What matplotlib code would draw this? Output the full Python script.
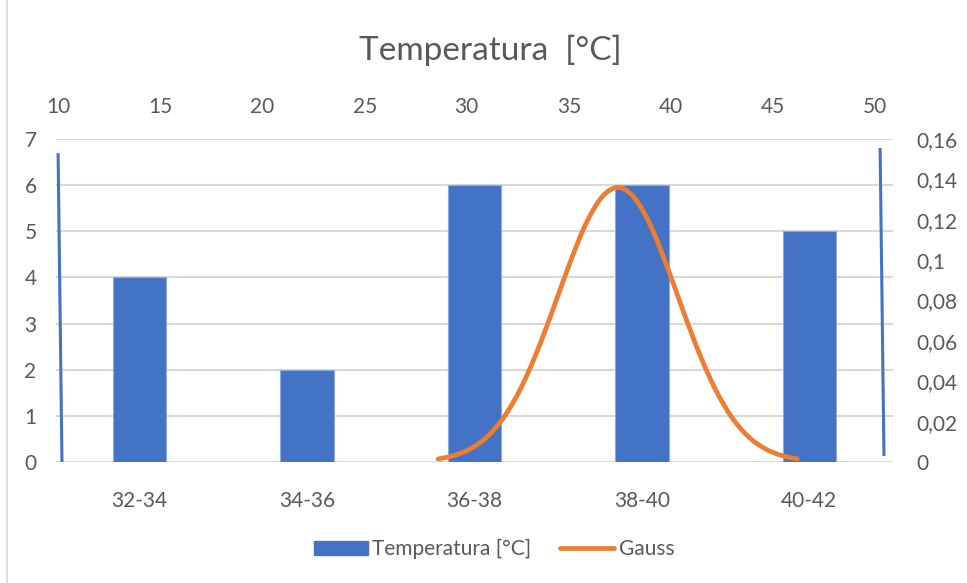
import numpy as np
import matplotlib.pyplot as plt
from matplotlib.path import Path
from matplotlib.patches import PathPatch, Patch
from matplotlib.lines import Line2D

plt.rcParams['font.family'] = ['Lato', 'DejaVu Sans']

# histogram classes
classes = ['32-34', '34-36', '36-38', '38-40', '40-42']
counts = [4, 2, 6, 6, 5]

# gauss curve (secondary axes)
gauss_x = [28.6, 29.4, 30.2, 31.0, 31.8, 32.6, 33.4, 34.2, 35.0, 35.8, 36.6, 37.4,
           38.2, 39.0, 39.8, 40.6, 41.4, 42.2, 43.0, 43.8, 44.6, 45.4, 46.2]
gauss_y = [0.0015, 0.0033, 0.0067, 0.0125, 0.0219, 0.0356, 0.0536, 0.0749, 0.0972,
           0.1172, 0.1310, 0.1360, 0.1310, 0.1172, 0.0972, 0.0749, 0.0536, 0.0356,
           0.0219, 0.0125, 0.0067, 0.0033, 0.0015]

# the two vertical strokes at the edges
edge_left_x = [9.98, 10.17]
edge_left_y = [0.153, 0.0]
edge_right_x = [50.25, 50.44]
edge_right_y = [0.1555, 0.003]

top_ticks = [10, 15, 20, 25, 30, 35, 40, 45, 50]
left_ticks = [0, 1, 2, 3, 4, 5, 6, 7]
right_ticks = [0, 0.02, 0.04, 0.06, 0.08, 0.1, 0.12, 0.14, 0.16]

BLUE = '#4472C4'
ORANGE = '#ED7D31'
GREY = '#595959'
GRID = '#D9D9D9'
FS = 15


def smooth_path(xs, ys):
    # Catmull-Rom -> cubic bezier, like a spreadsheet "smoothed line"
    pts = np.column_stack([xs, ys])
    n = len(pts)
    verts = [pts[0]]
    codes = [Path.MOVETO]
    for i in range(n - 1):
        p0 = pts[max(i - 1, 0)]
        p1 = pts[i]
        p2 = pts[i + 1]
        p3 = pts[min(i + 2, n - 1)]
        c1 = p1 + (p2 - p0) / 6.0
        c2 = p2 - (p3 - p1) / 6.0
        verts += [c1, c2, p2]
        codes += [Path.CURVE4] * 3
    return Path(verts, codes)


fig = plt.figure(figsize=(9.67, 5.83), dpi=100)
rect = [56 / 967, 1 - 462 / 583, (893 - 56) / 967, (462 - 139) / 583]
ax = fig.add_axes(rect)
ax2 = fig.add_axes(rect, frameon=False, label='sec')

# bars on category axis
pos = np.arange(len(classes))
ax.bar(pos, counts, width=0.32, color=BLUE, edgecolor='#8FAADC', linewidth=0.8, zorder=3)
ax.set_xlim(-0.5, len(classes) - 0.5)
ax.set_ylim(0, 7)
ax.set_xticks(pos)
ax.set_xticklabels(classes)
ax.set_yticks(left_ticks)
ax.yaxis.grid(True, color=GRID, linewidth=1.5, zorder=0)
ax.set_axisbelow(True)
for s in ax.spines.values():
    s.set_visible(False)
ax.tick_params(axis='x', length=0, pad=21, labelsize=FS, colors=GREY)
ax.tick_params(axis='y', length=0, pad=14, labelsize=FS, colors=GREY)

# secondary axes: gauss on top / right scales
ax2.set_xlim(10 - 2.5 / 20.41, 50 + 18 / 20.41)
ax2.set_ylim(0, 0.16)
ax2.xaxis.tick_top()
ax2.yaxis.tick_right()
ax2.set_xticks(top_ticks)
ax2.set_yticks(right_ticks)
ax2.set_yticklabels([('%g' % v).replace('.', ',') for v in right_ticks])
ax2.tick_params(axis='x', length=0, pad=16, labelsize=FS, colors=GREY)
ax2.tick_params(axis='y', length=0, pad=17, labelsize=FS, colors=GREY)
ax2.patch.set_visible(False)

ax2.plot(edge_left_x, edge_left_y, color=BLUE, lw=2.2, solid_capstyle='butt')
ax2.plot(edge_right_x, edge_right_y, color=BLUE, lw=2.2, solid_capstyle='butt')
ax2.add_patch(PathPatch(smooth_path(gauss_x, gauss_y), fill=False, edgecolor=ORANGE,
                        lw=3.4, capstyle='round', zorder=4))

fig.text(490 / 967, 1 - 50 / 583, 'Temperatura  [°C]', ha='center', va='center',
         fontsize=24, color=GREY)

handles = [Patch(facecolor=BLUE, edgecolor=BLUE),
           Line2D([0], [0], color=ORANGE, lw=3.4, solid_capstyle='round')]
fig.legend(handles, ['Temperatura [°C]', 'Gauss'], loc='center',
           bbox_to_anchor=(494 / 967, 1 - 549 / 583), ncol=2, frameon=False,
           fontsize=FS, labelcolor=GREY, handlelength=2.6, handleheight=0.65,
           handletextpad=0.2, columnspacing=1.4)

# chart border on the left
fig.add_artist(Line2D([7 / 967, 7 / 967], [0, 1], color=GRID, lw=1.2))

fig.savefig('out.png', dpi=100)
